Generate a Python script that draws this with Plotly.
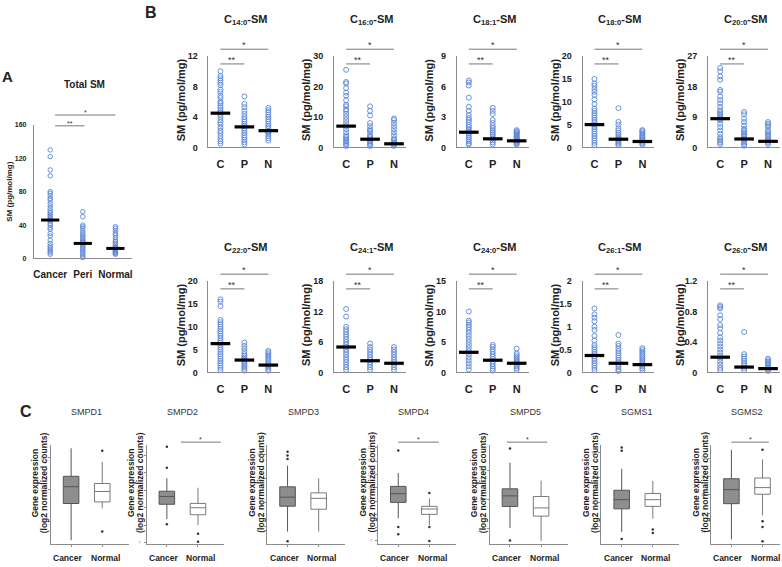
import plotly.graph_objects as go

W, H = 782, 567

# ---------------- DATA ----------------
groups_A = ["Cancer", "Peri", "Normal"]
groups_B = ["C", "P", "N"]

total_cancer = [130, 122, 106, 99, 80, 78, 75, 72, 70, 66, 63, 60, 57, 55, 53, 51, 49, 47, 45, 42, 40, 37, 35, 30, 27, 22, 18, 15, 13, 11, 9, 7, 5]
total_peri = [56, 50, 40, 38, 36, 33, 30, 28, 26, 24, 22, 20, 19, 17, 15, 13, 11, 9, 7, 5, 3, 1]
total_normal = [38, 36, 33, 30, 28, 25, 22, 20, 18, 16, 14, 13, 12, 11, 10, 9, 8, 7, 6, 5]
total_means = [46, 18, 12]
total_ticks = [0, 40, 80, 120, 160]

species_sub = ["14:0", "16:0", "18:1", "18:0", "20:0", "22:0", "24:1", "24:0", "26:1", "26:0"]
species_ticks = [
    [0, 4, 8, 12], [0, 10, 20, 30], [0, 3, 6, 9], [0, 5, 10, 15, 20], [0, 9, 18, 27],
    [0, 5, 10, 15, 20], [0, 6, 12, 18], [0, 5, 10, 15], [0, 0.5, 1, 1.5, 2], [0, 0.4, 0.8, 1.2],
]
species_tick_labels = [
    ["0", "4", "8", "12"], ["0", "10", "20", "30"], ["0", "3", "6", "9"], ["0", "5", "10", "15", "20"], ["0", "9", "18", "27"],
    ["0", "5", "10", "15", "20"], ["0", "6", "12", "18"], ["0", "5", "10", "15"], ["0", "0.5", "1", "1.5", "2"], ["0", "0.4", "0.8", "1.2"],
]
species_cancer = [
    [10, 9.4, 9.1, 8.8, 8.5, 8.2, 7.6, 7.3, 6.8, 6.5, 6.0, 5.8, 5.5, 5.2, 4.9, 4.6, 4.3, 4.0, 3.6, 3.3, 3.0, 2.6, 2.2, 1.9, 1.5, 1.1, 0.8, 0.5],
    [25.5, 21.5, 21, 19.5, 18, 17, 15.5, 14, 13.5, 12.5, 12, 11, 10, 9, 8, 7, 6, 5, 4, 3.5, 3, 2.5, 2, 1.5, 1, 0.5],
    [6.6, 6.4, 6.1, 4.9, 4.0, 3.6, 3.2, 2.9, 2.7, 2.5, 2.2, 2.0, 1.8, 1.6, 1.4, 1.2, 1.0, 0.8, 0.6, 0.4, 0.3],
    [15, 14, 13.5, 12.8, 12.2, 11.5, 10.5, 9.5, 8.5, 8, 7.5, 7, 6.5, 6, 5.5, 5, 4.5, 4, 3.5, 3, 2.5, 2, 1.5, 1, 0.5],
    [23.5, 22.5, 21, 20, 17, 16.5, 15, 14, 13, 12, 11, 10.5, 10, 9.5, 9, 8.5, 8, 7, 6, 5, 4, 3, 2.5, 2, 1.5, 1],
    [16, 15.5, 14.5, 11.5, 11, 10.5, 10, 9.5, 9, 8.5, 8, 7.5, 7, 6.5, 6, 5.5, 5, 4.5, 4, 3.5, 3, 2.5, 2, 1.5, 1, 0.5],
    [12.5, 11, 9, 8.5, 8, 7.5, 7, 6.5, 6, 5.5, 5, 4.5, 4, 3.5, 3, 2.5, 2, 1.5, 1, 0.5],
    [10, 8.5, 8.2, 7.8, 7.4, 7, 6.5, 6, 5.5, 5, 4.5, 4, 3.5, 3, 2.5, 2, 1.5, 1, 0.5],
    [1.4, 1.27, 1.2, 1.12, 1.0, 0.93, 0.8, 0.7, 0.6, 0.55, 0.5, 0.45, 0.4, 0.35, 0.3, 0.25, 0.2, 0.15, 0.1, 0.05],
    [0.88, 0.86, 0.84, 0.75, 0.7, 0.62, 0.58, 0.52, 0.46, 0.42, 0.38, 0.34, 0.3, 0.26, 0.22, 0.18, 0.14, 0.1, 0.06, 0.03],
]
species_peri = [
    [6.7, 5.7, 5.3, 4.8, 4.4, 4.0, 3.7, 3.4, 3.1, 2.8, 2.5, 2.2, 1.9, 1.6, 1.3, 1.0, 0.7, 0.4],
    [13.5, 12, 10.5, 8, 7, 6, 5.5, 5, 4, 3.5, 3, 2.5, 2, 1.5, 1, 0.5],
    [3.9, 3.6, 3.3, 2.7, 2.4, 2.1, 1.9, 1.7, 1.5, 1.3, 1.1, 0.9, 0.7, 0.5, 0.3],
    [8.6, 5.6, 5, 4.2, 3.7, 3.2, 2.8, 2.4, 2, 1.7, 1.4, 1.1, 0.8, 0.5],
    [10.5, 9.8, 8.5, 7.5, 6.5, 5.5, 5, 4.5, 4, 3.5, 3, 2.5, 2, 1.5, 1, 0.5],
    [6.5, 5.8, 5.2, 4.6, 4.0, 3.6, 3.2, 2.8, 2.4, 2.0, 1.6, 1.2, 0.8, 0.4],
    [5.7, 5, 4.5, 4, 3.5, 3, 2.5, 2, 1.5, 1, 0.5],
    [4.5, 4.2, 3.8, 3.4, 3, 2.6, 2.2, 1.8, 1.4, 1, 0.6, 0.3],
    [0.82, 0.63, 0.58, 0.52, 0.47, 0.42, 0.37, 0.32, 0.27, 0.22, 0.17, 0.12, 0.07, 0.03],
    [0.53, 0.24, 0.21, 0.18, 0.15, 0.12, 0.09, 0.06, 0.03],
]
species_normal = [
    [5.2, 4.9, 4.6, 4.3, 4.0, 3.7, 3.4, 3.1, 2.8, 2.5, 2.2, 2.0, 1.8, 1.5, 1.2, 0.9],
    [9.5, 9, 8, 7, 6, 5, 4, 3, 2.5, 2, 1.5, 1, 0.5],
    [1.7, 1.6, 1.5, 1.4, 1.3, 1.2, 1.1, 1.0, 0.9, 0.8, 0.7, 0.6, 0.5, 0.4, 0.3],
    [3.8, 3.6, 3.3, 3, 2.7, 2.4, 2.1, 1.8, 1.5, 1.2, 0.9, 0.6],
    [7.5, 7, 6.5, 6, 5, 4.5, 4, 3.5, 3, 2.5, 2, 1.5, 1],
    [4.7, 4.4, 4.0, 3.6, 3.2, 2.8, 2.4, 2.0, 1.6, 1.2, 0.8, 0.4],
    [5, 4.5, 4, 3.5, 3, 2.5, 2, 1.5, 1, 0.5],
    [3.9, 3.1, 2.8, 2.5, 2.2, 1.9, 1.6, 1.3, 1.0, 0.7, 0.4],
    [0.53, 0.49, 0.45, 0.41, 0.37, 0.33, 0.29, 0.25, 0.21, 0.17, 0.13, 0.09, 0.05],
    [0.18, 0.16, 0.14, 0.12, 0.1, 0.08, 0.06, 0.04, 0.02],
]
species_means = [
    [4.5, 2.7, 2.2], [7.0, 2.7, 1.2], [1.5, 0.85, 0.65], [5.0, 1.8, 1.3], [8.5, 2.5, 1.8],
    [6.3, 2.7, 1.6], [5.0, 2.3, 1.8], [3.3, 2.0, 1.5], [0.37, 0.2, 0.17], [0.2, 0.07, 0.05],
]

genes = ["SMPD1", "SMPD2", "SMPD3", "SMPD4", "SMPD5", "SGMS1", "SGMS2"]
box_groups = ["Cancer", "Normal"]
cancer_lo = [6.85, 8.35, 5.6, 8.7, 9.03, 9.8, 10.6]
cancer_q1 = [9.15, 9.2, 7.7, 9.9, 9.76, 10.73, 12.53]
cancer_med = [10.2, 9.65, 8.45, 10.55, 10.12, 11.1, 13.29]
cancer_q3 = [10.85, 9.95, 9.3, 11.1, 10.36, 11.48, 13.88]
cancer_hi = [12.6, 10.7, 11.05, 12.1, 11.25, 12.35, 15.45]
cancer_out = [[], [12.5, 11.3, 8.05], [12.2, 11.9, 11.6, 4.8], [13.8, 8.05, 7.5], [11.73, 8.6], [13.2, 13.07, 9.51], []]
normal_lo = [8.85, 8.0, 5.6, 8.2, 8.58, 10.33, 11.9]
normal_q1 = [9.25, 8.6, 7.45, 9.0, 9.43, 10.83, 13.04]
normal_med = [9.9, 9.0, 8.35, 9.4, 9.71, 11.1, 13.4]
normal_q3 = [10.4, 9.25, 8.8, 9.6, 10.1, 11.35, 13.92]
normal_hi = [11.75, 10.15, 10.0, 10.2, 10.64, 11.85, 14.93]
normal_out = [[12.45, 7.4], [7.5, 7.05], [], [10.6, 8.05, 7.0], [], [9.9, 9.76], [15.45, 11.58, 11.27, 10.5]]
gene_ranges = [[6.6, 12.8], [6.9, 12.6], [4.55, 12.75], [6.75, 14.2], [8.47, 11.85], [9.3, 13.3], [10.33, 15.7]]
gene_ticks = [[8, 10, 12], [7, 8, 9, 10, 11, 12], [6, 8, 10, 12], [7, 8, 9, 10, 11, 12, 13, 14], [9, 10, 11], [10, 11, 12, 13], [11, 12, 13, 14, 15]]
gene_sig = [None, (0.45, 1.73), None, (0.0, 1.3), (-0.1, 1.2), None, (0.0, 1.2)]

# ---------------- LAYOUT HELPERS ----------------
FONT = "Liberation Sans"
DOT = "#5B87D6"
AXC = "#8c8c8c"


def pxx(x):
    return min(1.0, max(0.0, x / W))


def pxy(y):
    return min(1.0, max(0.0, 1 - y / H))


fig = go.Figure()
layout_axes = {}
annotations = []
shapes = []
counter = [0]


def add_axes(x0, x1, ytop, ybot, xr, yr, xtv, xtt, ytv, ytt, xfont, yfont, xstand, ystand, ticks=""):
    counter[0] += 1
    n = counter[0]
    s = "" if n == 1 else str(n)
    layout_axes["xaxis" + s] = dict(
        domain=[pxx(x0), pxx(x1)], range=xr, anchor="y" + s, showline=True, linecolor=AXC, linewidth=1,
        showgrid=False, zeroline=False, tickmode="array", tickvals=xtv, ticktext=xtt, tickfont=xfont,
        ticks=ticks, ticklen=2, tickcolor=AXC, ticklabelstandoff=xstand, tickangle=0, fixedrange=True)
    layout_axes["yaxis" + s] = dict(
        domain=[pxy(ybot), pxy(ytop)], range=yr, anchor="x" + s, showline=True, linecolor=AXC, linewidth=1,
        showgrid=False, zeroline=False, tickmode="array", tickvals=ytv, ticktext=ytt, tickfont=yfont,
        ticks=ticks, ticklen=2, tickcolor=AXC, ticklabelstandoff=ystand, fixedrange=True)
    return "x" + s, "y" + s


def text(x, y, t, size, bold=False, angle=0, color="#222", xanchor="center"):
    annotations.append(dict(x=x / W, y=1 - y / H, xref="paper", yref="paper", text=("<b>%s</b>" % t) if bold else t,
                            showarrow=False, font=dict(family=FONT, size=size, color=color), textangle=angle,
                            xanchor=xanchor, yanchor="middle"))


def sig(xref, yref, xa, xb, ydom, star, size):
    shapes.append(dict(type="line", xref=xref, yref=yref + " domain", x0=xa, x1=xb, y0=ydom, y1=ydom,
                       line=dict(color="#777", width=1)))
    annotations.append(dict(x=(xa + xb) / 2, y=ydom, xref=xref, yref=yref + " domain", text=star, showarrow=False,
                            yanchor="bottom", yshift=-3, font=dict(family=FONT, size=size, color="#333")))


def dots(xref, yref, groups, means, barlen, barw, dsize):
    for i, vals in enumerate(groups):
        fig.add_trace(go.Scatter(x=[i] * len(vals), y=vals, xaxis=xref, yaxis=yref, mode="markers", cliponaxis=False,
                                 marker=dict(symbol="circle-open", size=dsize, color=DOT, line=dict(width=0.9, color=DOT)),
                                 showlegend=False, hoverinfo="skip"))
    fig.add_trace(go.Scatter(x=list(range(len(means))), y=means, xaxis=xref, yaxis=yref, mode="markers", cliponaxis=False,
                             marker=dict(symbol="line-ew", size=barlen, line=dict(width=barw, color="black")),
                             showlegend=False, hoverinfo="skip"))


# ---------------- PANEL A ----------------
xa_, ya_ = add_axes(33, 131, 122, 258, [-0.5, 2.5], [0, 160], [0, 1, 2], ["<b>%s</b>" % g for g in groups_A],
                    total_ticks, ["<b>%d</b>" % t for t in total_ticks],
                    dict(family=FONT, size=10, color="#222"), dict(family=FONT, size=7, color="#222"), 7, 5)
dots(xa_, ya_, [total_cancer, total_peri, total_normal], total_means, 13, 3, 4.5)
text(84, 81, "Total SM", 10, bold=True)
text(7, 73, "A", 15, bold=True)
text(9, 190, "SM (pg/mol/mg)", 8, bold=True, angle=-90)
sig(xa_, ya_, 0.15, 2.0, (258 - 112) / 136, "*", 7)
sig(xa_, ya_, 0.15, 1.05, (258 - 123) / 136, "**", 7)

# ---------------- PANEL B ----------------
bx0 = [208, 334, 457, 583, 709]
rows = [(52, 145), (281, 374)]
title_y = [15, 247]
for k in range(10):
    r, c = divmod(k, 5)
    x0 = bx0[c]
    ytop, ybot = rows[r]
    ymax = species_ticks[k][-1]
    xr_, yr_ = add_axes(x0, x0 + 72, ytop, ybot, [-0.5, 2.5], [0, ymax], [0, 1, 2],
                        ["<b>%s</b>" % g for g in groups_B], species_ticks[k],
                        ["<b>%s</b>" % t for t in species_tick_labels[k]],
                        dict(family=FONT, size=11, color="#222"), dict(family=FONT, size=9, color="#222"), 6, 8)
    dots(xr_, yr_, [species_cancer[k], species_peri[k], species_normal[k]], species_means[k], 14, 3.2, 5)
    text(x0 + 38, title_y[r], "C<sub>%s</sub>-SM" % species_sub[k], 11, bold=True)
    text(x0 - 28, (ytop + ybot) / 2 - 2, "SM (pg/mol/mg)", 11, bold=True, angle=-90)
    top_star = (ybot - (ytop - 7)) / (ybot - ytop)
    top_dstar = (ybot - (ytop + 8)) / (ybot - ytop)
    sig(xr_, yr_, 0.0, 2.0, top_star, "*", 9)
    sig(xr_, yr_, 0.0, 1.0, top_dstar, "**", 9)
text(150, 8, "B", 16, bold=True)

# ---------------- PANEL C ----------------
cx0 = [50, 146, 267, 378, 490, 602, 712]
ctop, cbot = 448, 549
PX_PER_UNIT = 31.2
for k, g in enumerate(genes):
    x0 = cx0[k]
    wid = min(78, W - 1 - x0)
    xr_, yr_ = add_axes(x0, x0 + wid, ctop, cbot, [-0.65, -0.65 + wid / PX_PER_UNIT], gene_ranges[k], [0, 1],
                        ["", ""], gene_ticks[k], [str(t) for t in gene_ticks[k]],
                        dict(family=FONT, size=9, color="#222"), dict(family=FONT, size=4, color="#888"), 8, 2,
                        ticks="outside")
    for i, lab in enumerate(box_groups):
        annotations.append(dict(x=i, y=0, xref=xr_, yref=yr_ + " domain", text="<b>%s</b>" % lab, showarrow=False,
                                xshift=(-3 if i == 0 else 3), yshift=-14, yanchor="middle",
                                font=dict(family=FONT, size=8.5, color="#222")))
    fig.add_trace(go.Box(x=[0], q1=[cancer_q1[k]], median=[cancer_med[k]], q3=[cancer_q3[k]],
                         lowerfence=[cancer_lo[k]], upperfence=[cancer_hi[k]], xaxis=xr_, yaxis=yr_,
                         fillcolor="#8e8e8e", line=dict(color="#555", width=1), width=0.5, whiskerwidth=0,
                         boxpoints=False, showlegend=False, hoverinfo="skip"))
    fig.add_trace(go.Box(x=[1], q1=[normal_q1[k]], median=[normal_med[k]], q3=[normal_q3[k]],
                         lowerfence=[normal_lo[k]], upperfence=[normal_hi[k]], xaxis=xr_, yaxis=yr_,
                         fillcolor="white", line=dict(color="#7a7a7a", width=1), width=0.5, whiskerwidth=0,
                         boxpoints=False, showlegend=False, hoverinfo="skip"))
    for i, outs in enumerate([cancer_out[k], normal_out[k]]):
        if outs:
            fig.add_trace(go.Scatter(x=[i] * len(outs), y=outs, xaxis=xr_, yaxis=yr_, mode="markers", cliponaxis=False,
                                     marker=dict(size=2.5, color="#333"), showlegend=False, hoverinfo="skip"))
    text(x0 + 36, 414, g, 9, color="#333")
    text(x0 - 15, 486, "Gene expression", 8.5, bold=True, angle=-90)
    text(x0 - 6, 486, "(log2 normalized counts)", 8.5, bold=True, angle=-90)
    if gene_sig[k]:
        sig(xr_, yr_, gene_sig[k][0], gene_sig[k][1], (cbot - 445) / (cbot - ctop), "*", 7)
text(25, 414, "C", 16, bold=True)

fig.update_layout(width=W, height=H, margin=dict(l=0, r=0, t=0, b=0), paper_bgcolor="white", plot_bgcolor="white",
                  annotations=annotations, shapes=shapes, showlegend=False, font=dict(family=FONT), **layout_axes)
fig.write_html("out.html", config={"displayModeBar": False},
               post_script="document.body.style.margin='0px';document.body.style.overflow='hidden';")
